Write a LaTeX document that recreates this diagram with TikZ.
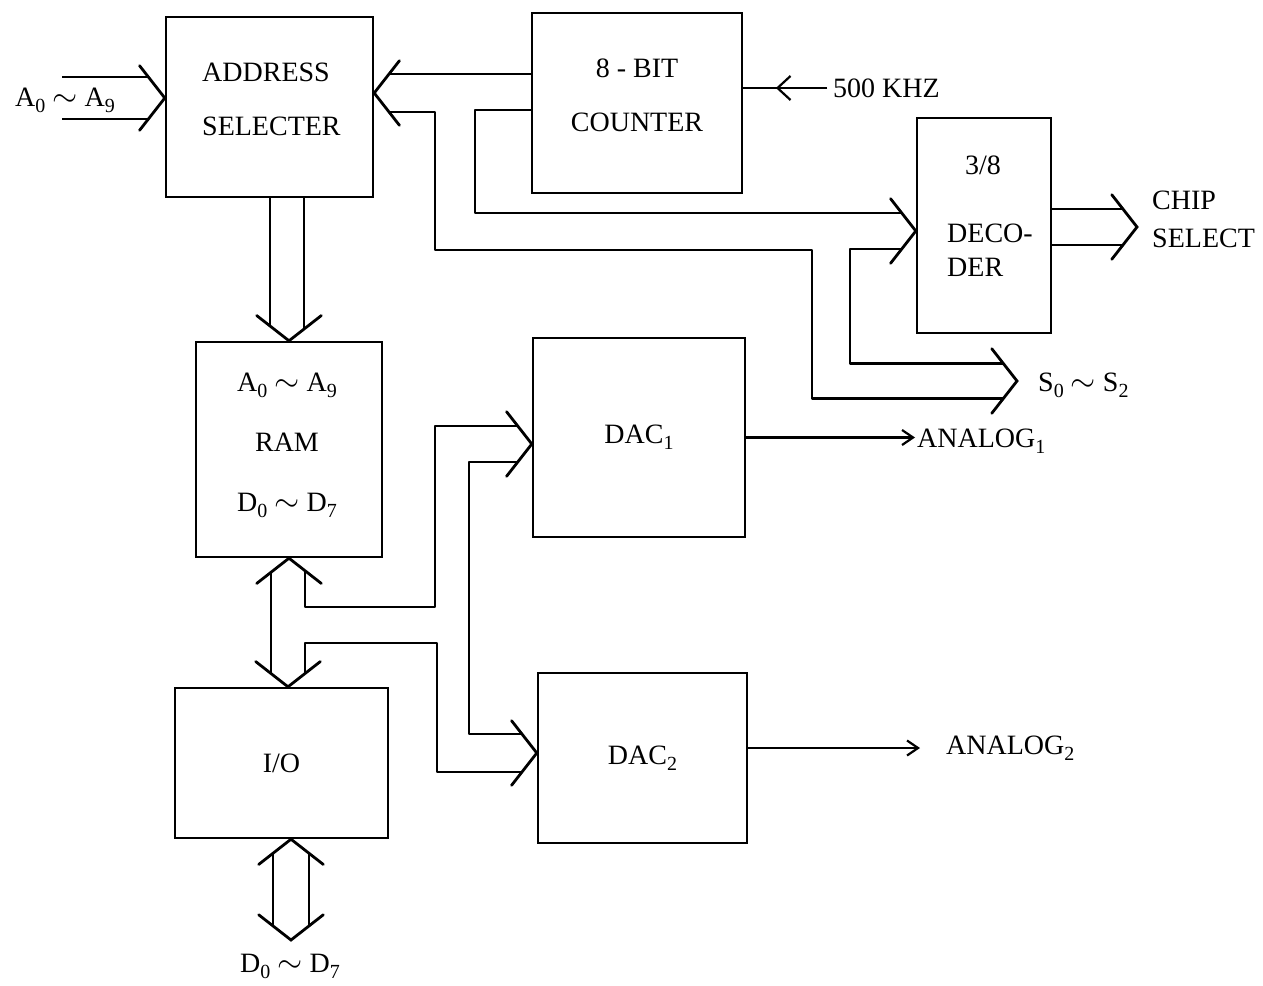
\documentclass[tikz,border=0pt]{standalone}
\usepackage{fontspec}
\usepackage{graphicx}
\setmainfont{Liberation Serif}
\usetikzlibrary{arrows.meta,calc}

% open bus arrow head: apex, direction it points
\newcommand{\busarrow}[2]{\draw[chv] ($(#1)+(#2+128:41)$) -- (#1) -- ($(#1)+(#2-128:41)$);}
% subscript and tilde as printed
\newcommand{\sbs}[1]{\raisebox{-6pt}{\fontsize{20}{20}\selectfont #1}}
\newcommand{\tld}{\scalebox{1.3}{$\sim$}}

\begin{document}
\begin{tikzpicture}[x=1pt, y=-1pt, font=\fontsize{28}{34}\selectfont,
  blk/.style={draw, line width=2.4pt, inner sep=0pt},
  ln/.style={line width=2.2pt, line join=round},
  chv/.style={line width=2.8pt, line cap=round},
  lbl/.style={inner sep=0pt},
  sig/.style={ln, -{Straight Barb[length=13pt, width=24pt, line width=2.2pt]}},
  sigs/.style={ln, -{Straight Barb[length=11pt, width=15pt, line width=2.2pt]}},
]
\useasboundingbox (0,0) rectangle (1263,985);

% blocks
\node[blk, minimum width=207pt, minimum height=180pt] (addr) at (269.5,107) {};
\node[blk, minimum width=210pt, minimum height=180pt] (cnt) at (637,103) {};
\node[blk, minimum width=134pt, minimum height=215pt] (dec) at (984,225.5) {};
\node[blk, minimum width=186pt, minimum height=215pt] (ram) at (289,449.5) {};
\node[blk, minimum width=212pt, minimum height=199pt] (dac1) at (639,437.5) {DAC\sbs{1}};
\node[blk, minimum width=213pt, minimum height=150pt] (io) at (281.5,763) {I/O};
\node[blk, minimum width=209pt, minimum height=170pt] (dac2) at (642.5,758) {DAC\sbs{2}};

% block texts
\node[lbl, align=left, anchor=west] (addrtxt) at (202,99) {ADDRESS\\[20pt]SELECTER};
\node[lbl, align=center] (cnttxt) at (637,95) {8 - BIT\\[20pt]COUNTER};
\node[lbl] (dectop) at (983,165) {3/8};
\node[lbl, align=left, anchor=west] (dectxt) at (947,250) {DECO-\\DER};
\node[lbl, align=center] (ramtxt) at (287,445)
  {A\sbs{0} \tld{} A\sbs{9}\\[26pt]RAM\\[26pt]D\sbs{0} \tld{} D\sbs{7}};

% free ends and bus heads
\path (addr.west) ++(0,-9) coordinate (ain);
\path (addr.east) ++(0,-14) coordinate (cin);
\path (dec.west) ++(0,5.5) coordinate (din);
\path (io.north) ++(6.5,0) coordinate (iotop);
\path (io.south) ++(9.5,0) coordinate (iobot);
\path (dac1.west) ++(0,6.5) coordinate (dacin1);
\path (dac2.west) ++(0,-5) coordinate (dacin2);
\coordinate (a1) at (62,77);
\coordinate (a2) at (62,119);
\coordinate (clk) at (827,88);
\coordinate (sout) at (1017,381);
\coordinate (cs) at (1137,227);
\coordinate (dbus) at (291,940);
\coordinate (an1) at (915,437.5);
\coordinate (an2) at (920,748);

% A0~A9 into address selecter
\draw[ln] (a1) -- ($(ain)+(-16,-21)$);
\draw[ln] (a2) -- ($(ain)+(-16,21)$);
\busarrow{ain}{0}
\node[lbl, anchor=west] (ainl) at (15,100) {A\sbs{0} \tld{} A\sbs{9}};

% counter to address selecter, decoder and S0~S2
\draw[ln] ($(cnt.west)+(0,-29)$) -- ($(cin)+(15,-19)$);
\draw[ln] ($(cin)+(15,19)$) -- (435,112) |- (812,250) |- ($(sout)+(-14,17.5)$);
\busarrow{cin}{180}
\draw[ln] ($(cnt.west)+(0,7)$) -- (475,110) |- ($(din)+(-14,-18)$);
\draw[ln] ($(din)+(-14,18)$) -- (850,249) |- ($(sout)+(-14,-17.5)$);
\busarrow{din}{0}
\busarrow{sout}{0}
\node[lbl, anchor=west] (soutl) at (1038,385) {S\sbs{0} \tld{} S\sbs{2}};

% clock
\draw[ln] (clk) -- (clk -| cnt.east);
\draw[sig] (clk) -- ($(clk)!0.61!(clk -| cnt.east)$);
\node[lbl, anchor=west] (clkl) at (833,88) {500 KHZ};

% chip select
\draw[ln] ($(dec.east)+(0,-16.5)$) -- ($(cs)+(-14,-18)$);
\draw[ln] ($(dec.east)+(0,19.5)$) -- ($(cs)+(-14,18)$);
\busarrow{cs}{0}
\node[lbl, align=left, anchor=west] (csl) at (1152,219) {CHIP\\[4pt]SELECT};

% address selecter to RAM
\draw[ln] ($(ram.north |- addr.south)+(-19,0)$) -- ($(ram.north)+(-19,-14)$);
\draw[ln] ($(ram.north |- addr.south)+(15,0)$) -- ($(ram.north)+(15,-12)$);
\busarrow{ram.north}{90}

% RAM <-> I/O and data to the DACs
\draw[ln] ($(ram.south)+(-18,14)$) -- ($(iotop)+(-17,-13)$);
\draw[ln] ($(ram.south)+(16,12)$) |- (435,607) |- ($(dacin1)+(-14,-18)$);
\draw[ln] ($(iotop)+(17,-13)$) |- (437,643) |- ($(dacin2)+(-15,19)$);
\draw[ln] ($(dacin2)+(-15,-19)$) -| ($(dacin1)+(-63,18)$) -- ($(dacin1)+(-14,18)$);
\busarrow{ram.south}{270}
\busarrow{iotop}{90}
\busarrow{dacin1}{0}
\busarrow{dacin2}{0}

% I/O data bus
\draw[ln] ($(iobot)+(-18,14)$) -- ($(dbus)+(-18,-14)$);
\draw[ln] ($(iobot)+(18,14)$) -- ($(dbus)+(18,-14)$);
\busarrow{iobot}{270}
\busarrow{dbus}{90}
\node[lbl] (dbusl) at (290,966) {D\sbs{0} \tld{} D\sbs{7}};

% analog outputs
\draw[sigs] (dac1.east) -- (an1);
\node[lbl, anchor=west] (an1l) at (917,441) {ANALOG\sbs{1}};
\draw[sigs] (dac2.east |- an2) -- (an2);
\node[lbl, anchor=west] (an2l) at (946,748) {ANALOG\sbs{2}};
\end{tikzpicture}
\end{document}
